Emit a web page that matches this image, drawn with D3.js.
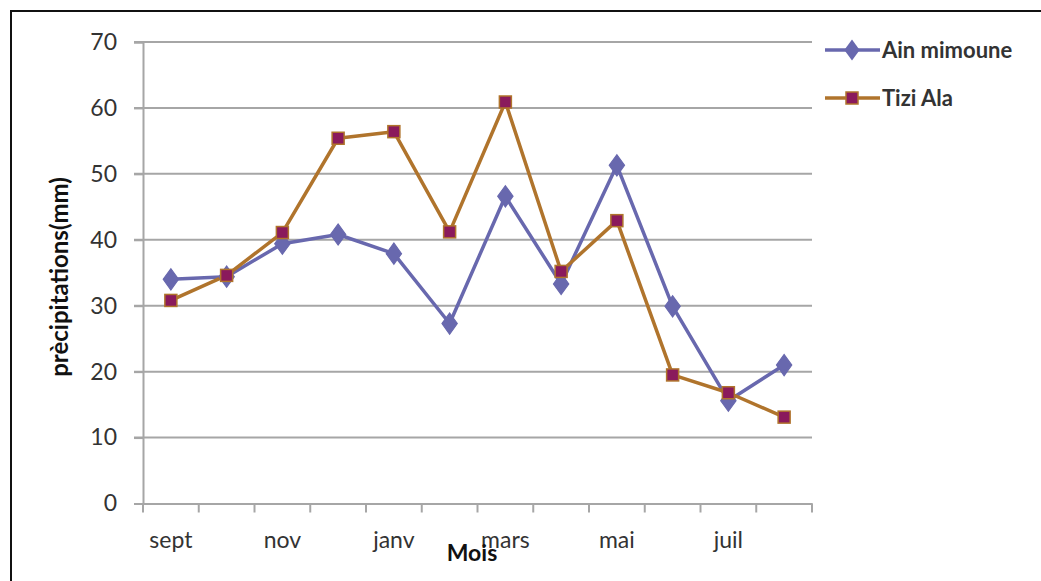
<!DOCTYPE html>
<html>
<head>
<meta charset="utf-8">
<script src="https://cdn.jsdelivr.net/npm/d3@7"></script>
<style>
  html, body { margin: 0; padding: 0; background: #ffffff; }
  svg { display: block; font-family: Lato, "Open Sans", sans-serif; }
</style>
</head>
<body>
<svg id="chart" width="1041" height="581"></svg>
<script>
const months = ["sept", "oct", "nov", "dec", "janv", "fev", "mars", "avr", "mai", "juin", "juil", "aout"];
const shownMonths = ["sept", "nov", "janv", "mars", "mai", "juil"];
const ainMimoune = [34.0, 34.4, 39.4, 40.8, 37.9, 27.3, 46.6, 33.3, 51.3, 29.9, 15.6, 21.0];
const tiziAla = [30.8, 34.6, 41.1, 55.4, 56.4, 41.2, 60.9, 35.2, 42.9, 19.5, 16.8, 13.1];
const yTicks = [0, 10, 20, 30, 40, 50, 60, 70];
const seriesNames = ["Ain mimoune", "Tizi Ala"];

const svg = d3.select("#chart");
const plotLeft = 143, plotRight = 812, plotTop = 42, plotBottom = 503.5;

// Outer frame (left and top)
svg.append("path")
  .attr("d", `M11,581 L11,11 L1041,11`)
  .attr("fill", "none").attr("stroke", "#111").attr("stroke-width", 2);

const x = d3.scaleBand().domain(months).range([plotLeft, plotRight]).padding(0);
const y = d3.scaleLinear().domain([0, 70]).range([plotBottom, plotTop]);

// Gridlines
svg.append("g").selectAll("line").data(yTicks.filter(d => d > 0)).join("line")
  .attr("x1", plotLeft - 9).attr("x2", plotRight)
  .attr("y1", d => y(d)).attr("y2", d => y(d))
  .attr("stroke", "#a6a6a6").attr("stroke-width", 2);

// Y axis
const yAxis = svg.append("g").attr("transform", `translate(${plotLeft},0)`)
  .call(d3.axisLeft(y).tickValues(yTicks).tickSize(9).tickPadding(17));
yAxis.select(".domain").attr("stroke", "#a6a6a6").attr("stroke-width", 2);
yAxis.selectAll(".tick line").attr("stroke", "#a6a6a6").attr("stroke-width", 2);
yAxis.selectAll(".tick text").attr("font-size", 23).attr("fill", "#333")
  .attr("font-family", "Lato, sans-serif");

// X axis
const xAxis = svg.append("g").attr("transform", `translate(0,${plotBottom})`)
  .call(d3.axisBottom(x).tickSize(0).tickFormat(d => shownMonths.includes(d) ? d : ""));
xAxis.select(".domain").attr("stroke", "#a6a6a6").attr("stroke-width", 2);
xAxis.selectAll(".tick text").attr("font-size", 23).attr("fill", "#333")
  .attr("font-family", "Lato, sans-serif").attr("dy", "0").attr("y", 44);
// boundary tick marks
const bounds = months.map(m => x(m)).concat([plotRight]);
svg.append("g").selectAll("line").data(bounds).join("line")
  .attr("x1", d => d).attr("x2", d => d)
  .attr("y1", plotBottom).attr("y2", plotBottom + 9)
  .attr("stroke", "#a6a6a6").attr("stroke-width", 2);

const cx = m => x(m) + x.bandwidth() / 2;

// Lines
const line = d3.line().x((d, i) => cx(months[i])).y(d => y(d));
svg.append("path").datum(ainMimoune).attr("d", line)
  .attr("fill", "none").attr("stroke", "#6868ae").attr("stroke-width", 3.5).attr("stroke-linejoin", "round");
svg.append("path").datum(tiziAla).attr("d", line)
  .attr("fill", "none").attr("stroke", "#b0742c").attr("stroke-width", 3.5).attr("stroke-linejoin", "round");

// Markers
const diamond = d3.symbol().type(d3.symbolDiamond).size(130);
svg.append("g").selectAll("path").data(ainMimoune).join("path")
  .attr("d", diamond)
  .attr("transform", (d, i) => `translate(${cx(months[i])},${y(d)}) scale(1.25,1)`)
  .attr("fill", "#6868ae").attr("stroke", "#6868ae").attr("stroke-width", 1);
svg.append("g").selectAll("rect").data(tiziAla).join("rect")
  .attr("x", (d, i) => cx(months[i]) - 6).attr("y", d => y(d) - 6)
  .attr("width", 12).attr("height", 12)
  .attr("fill", "#8a1a5c").attr("stroke", "#b0742c").attr("stroke-width", 1.5);

// Axis titles
svg.append("text").attr("x", 472).attr("y", 561).attr("text-anchor", "middle")
  .attr("font-size", 23).attr("font-weight", "bold").attr("fill", "#111").text("Mois");
svg.append("text").attr("transform", "translate(68,277) rotate(-90)").attr("text-anchor", "middle")
  .attr("font-size", 24).attr("font-weight", "bold").attr("fill", "#111").text("prècipitations(mm)");

// Legend
const legend = svg.append("g");
const legendY = [50, 98];
legend.append("line").attr("x1", 825).attr("x2", 880).attr("y1", legendY[0]).attr("y2", legendY[0])
  .attr("stroke", "#6868ae").attr("stroke-width", 3.5);
legend.append("path").attr("d", diamond).attr("transform", `translate(852,${legendY[0]}) scale(1.25,1)`)
  .attr("fill", "#6868ae");
legend.append("line").attr("x1", 825).attr("x2", 880).attr("y1", legendY[1]).attr("y2", legendY[1])
  .attr("stroke", "#b0742c").attr("stroke-width", 3.5);
legend.append("rect").attr("x", 846).attr("y", legendY[1] - 6).attr("width", 12).attr("height", 12)
  .attr("fill", "#8a1a5c").attr("stroke", "#b0742c").attr("stroke-width", 1.5);
legend.selectAll("text").data(seriesNames).join("text")
  .attr("x", 882).attr("y", (d, i) => legendY[i] + 8)
  .attr("font-size", 22).attr("font-weight", "bold").attr("fill", "#333").text(d => d);
</script>
</body>
</html>
